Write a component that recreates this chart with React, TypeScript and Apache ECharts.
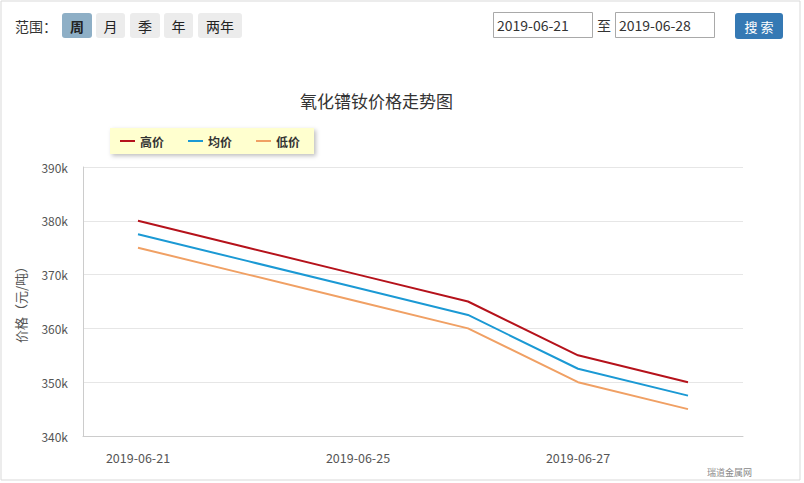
import React, { useEffect, useRef } from "react";
import * as echarts from "echarts";

const categories = ["2019-06-21", "2019-06-24", "2019-06-25", "2019-06-26", "2019-06-27", "2019-06-28"];
const highPrice = [380000, 375000, 370000, 365000, 355000, 350000];
const avgPrice = [377500, 372500, 367500, 362500, 352500, 347500];
const lowPrice = [375000, 370000, 365000, 360000, 350000, 345000];
const seriesNames = ["高价", "均价", "低价"];
const rangeButtons = ["周", "月", "季", "年", "两年"];
const startDate = "2019-06-21";
const endDate = "2019-06-28";

const FONT = "'Noto Sans CJK SC', 'Noto Sans', sans-serif";

export default function App() {
  const ref = useRef<HTMLDivElement>(null);
  useEffect(() => {
    document.body.style.margin = "0";
    const chart = echarts.init(ref.current!, null, { renderer: "svg" });
    const btnX = [62, 96, 130, 164, 198];
    const btnW = [30, 29, 30, 29, 44];
    const graphic: any[] = [
      { type: "rect", shape: { x: 1, y: 1, width: 799, height: 479 }, style: { fill: "none", stroke: "#d9d9d9", lineWidth: 1 }, silent: true },
      { type: "text", x: 15, y: 26, style: { text: "范围：", font: `14px ${FONT}`, fill: "#333", verticalAlign: "middle" } },
    ];
    rangeButtons.forEach((b, i) => {
      graphic.push({
        type: "rect",
        shape: { x: btnX[i], y: 13, width: btnW[i], height: 25, r: 3 },
        style: { fill: i === 0 ? "#8eafc6" : "#ececec" },
      });
      graphic.push({
        type: "text",
        x: btnX[i] + btnW[i] / 2,
        y: 26,
        style: { text: b, font: `${i === 0 ? "bold " : ""}14px ${FONT}`, fill: "#222", align: "center", verticalAlign: "middle" },
      });
    });
    graphic.push(
      { type: "rect", shape: { x: 493.5, y: 12.5, width: 99, height: 25 }, style: { fill: "#fff", stroke: "#a9a9a9", lineWidth: 1 } },
      { type: "text", x: 497, y: 25, style: { text: startDate, font: `14px ${FONT}`, fill: "#333", verticalAlign: "middle" } },
      { type: "text", x: 597, y: 25, style: { text: "至", font: `14px ${FONT}`, fill: "#333", verticalAlign: "middle" } },
      { type: "rect", shape: { x: 615.5, y: 12.5, width: 99, height: 25 }, style: { fill: "#fff", stroke: "#a9a9a9", lineWidth: 1 } },
      { type: "text", x: 619, y: 25, style: { text: endDate, font: `14px ${FONT}`, fill: "#333", verticalAlign: "middle" } },
      { type: "rect", shape: { x: 735, y: 13, width: 48, height: 26, r: 3 }, style: { fill: "#3579b4" } },
      { type: "text", x: 759, y: 26, style: { text: "搜 索", font: `13px ${FONT}`, fill: "#fff", align: "center", verticalAlign: "middle" } },
      { type: "text", x: 752, y: 472, style: { text: "瑞道金属网", font: `9px ${FONT}`, fill: "#888", align: "right", verticalAlign: "middle" } }
    );

    chart.setOption({
      animation: false,
      backgroundColor: "#fff",
      title: {
        text: "氧化镨钕价格走势图",
        left: 295,
        top: 87,
        textStyle: { fontSize: 17, fontWeight: "normal", color: "#333", fontFamily: FONT },
      },
      legend: {
        data: seriesNames,
        left: 110,
        top: 128,
        icon: "rect",
        itemWidth: 15,
        itemHeight: 2,
        itemGap: 24,
        padding: [7, 14, 7, 10],
        backgroundColor: "#ffffcf",
        shadowBlur: 4,
        shadowColor: "rgba(0,0,0,0.25)",
        shadowOffsetX: 2,
        shadowOffsetY: 2,
        textStyle: { fontSize: 12, fontWeight: "bold", color: "#333", fontFamily: FONT },
      },
      grid: { left: 83, right: 61, top: 167, bottom: 47 },
      xAxis: {
        type: "category",
        data: categories,
        boundaryGap: true,
        axisLine: { lineStyle: { color: "#ccc" } },
        axisTick: { show: false },
        axisLabel: { interval: 1, color: "#555", fontSize: 12.5, margin: 15, fontFamily: FONT },
      },
      yAxis: {
        type: "value",
        min: 340000,
        max: 390000,
        interval: 10000,
        name: "价格（元/吨）",
        nameLocation: "middle",
        nameGap: 56,
        nameTextStyle: { color: "#555", fontSize: 13, fontFamily: FONT },
        axisLine: { show: true, lineStyle: { color: "#ccc" } },
        axisTick: { show: false },
        splitLine: { lineStyle: { color: "#e6e6e6" } },
        axisLabel: { color: "#555", fontSize: 12, margin: 15, fontFamily: FONT, formatter: (v: number) => v / 1000 + "k" },
      },
      series: [
        { name: seriesNames[0], type: "line", data: highPrice, color: "#b5121b", symbol: "none", lineStyle: { width: 2 } },
        { name: seriesNames[1], type: "line", data: avgPrice, color: "#1b99d4", symbol: "none", lineStyle: { width: 2 } },
        { name: seriesNames[2], type: "line", data: lowPrice, color: "#f0a064", symbol: "none", lineStyle: { width: 2 } },
      ],
      graphic,
    });
    return () => chart.dispose();
  }, []);
  return <div ref={ref} style={{ width: 804, height: 483 }} />;
}
